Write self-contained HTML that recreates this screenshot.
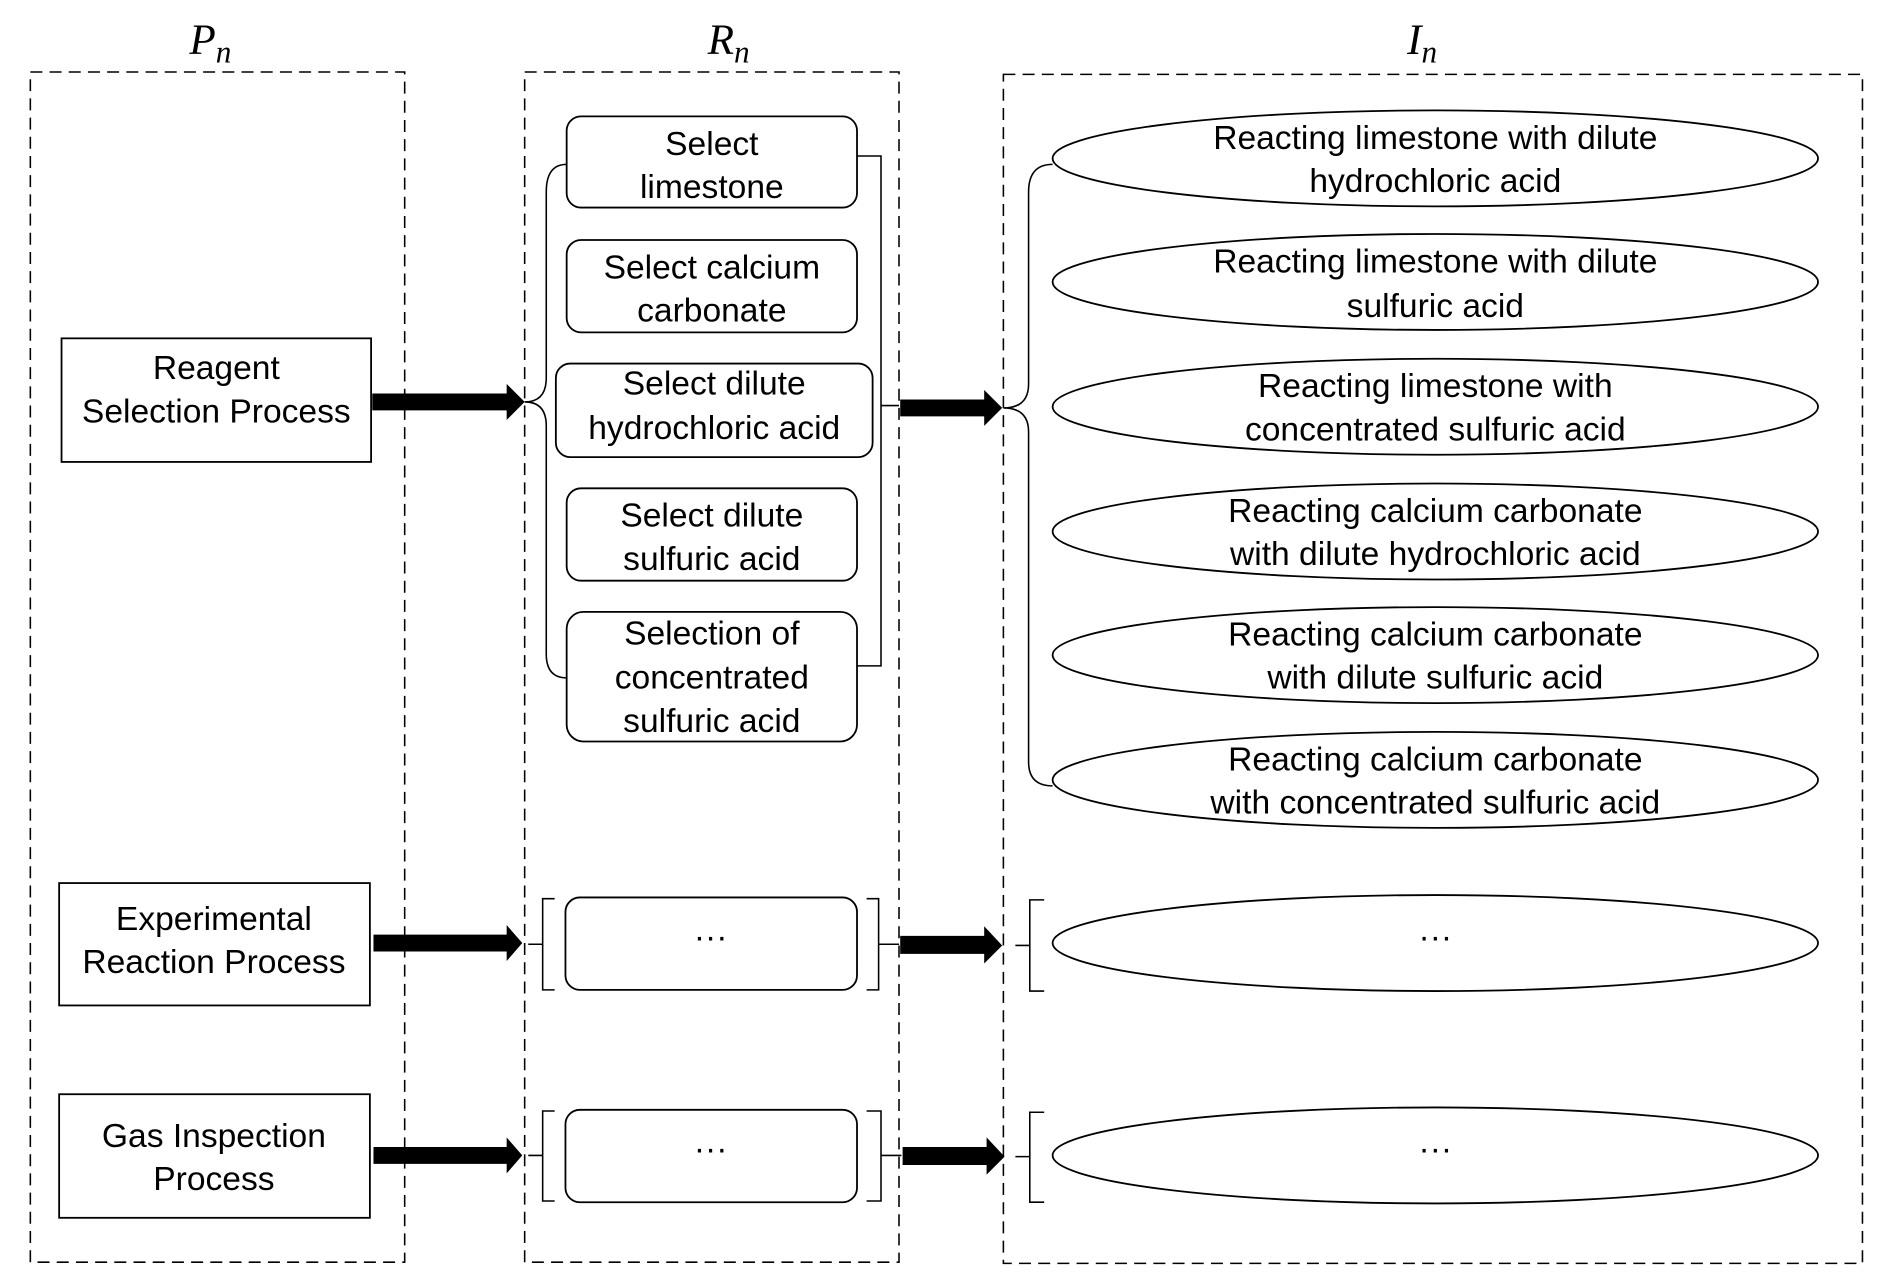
<!DOCTYPE html>
<html><head><meta charset="utf-8"><style>html,body{margin:0;padding:0;background:#fff}svg{display:block}</style></head>
<body>
<svg width="1882" height="1285" viewBox="0 0 1568 1071" xmlns="http://www.w3.org/2000/svg" font-family="Liberation Sans, sans-serif" font-size="28" fill="none" stroke="#000">
<g stroke-dasharray="10,6" stroke-width="1.3">
<rect x="25" y="60" width="312" height="992"/>
<rect x="437" y="60" width="312" height="992"/>
<rect x="836" y="62" width="716" height="991"/>
</g>
<g font-family="Liberation Serif, serif" font-style="italic" font-size="36" fill="#000" stroke="none" text-anchor="middle">
<text x="175" y="45">P<tspan font-size="26" dy="7">n</tspan></text>
<text x="607" y="45">R<tspan font-size="26" dy="7">n</tspan></text>
<text x="1185" y="45">I<tspan font-size="26" dy="7">n</tspan></text>
</g>
<g stroke-width="1.5">
<rect x="51" y="282" width="258" height="103"/>
<rect x="49" y="736" width="259" height="102"/>
<rect x="49" y="912" width="259" height="103"/>
<rect x="472" y="97" width="242" height="76" rx="12"/>
<rect x="472" y="200" width="242" height="77" rx="12"/>
<rect x="463" y="303" width="264" height="78" rx="12"/>
<rect x="472" y="407" width="242" height="77" rx="12"/>
<rect x="472" y="510" width="242" height="108" rx="14"/>
<rect x="471" y="748" width="243" height="77" rx="12"/>
<rect x="471" y="925" width="243" height="77" rx="12"/>
<ellipse cx="1196" cy="132" rx="319" ry="40"/>
<ellipse cx="1196" cy="235" rx="319" ry="40"/>
<ellipse cx="1196" cy="339" rx="319" ry="40"/>
<ellipse cx="1196" cy="443" rx="319" ry="40"/>
<ellipse cx="1196" cy="546" rx="319" ry="40"/>
<ellipse cx="1196" cy="650" rx="319" ry="40"/>
<ellipse cx="1196" cy="786" rx="319" ry="40"/>
<ellipse cx="1196" cy="963" rx="319" ry="40"/>
</g>
<g stroke-width="1.3">
<path d="M472 137 Q455 137 455 160 L455 315 Q455 335 437 335 Q455 335 455 355 L455 545 Q455 565 472 565"/>
<path d="M714 130 L734 130 L734 555 L714 555 M734 338 L749 338"/>
<path d="M877 137 Q857 137 857 160 L857 320 Q857 340 836 340 Q857 340 857 360 L857 635 Q857 655 877 655"/>
<path d="M462 749 L452 749 L452 825 L462 825 M452 787 L440 787"/>
<path d="M722 749 L732 749 L732 825 L722 825 M732 787 L749 787"/>
<path d="M870 750 L858 750 L858 826 L870 826 M858 788 L846 788"/>
<path d="M462 926 L452 926 L452 1001 L462 1001 M452 963 L440 963"/>
<path d="M722 926 L734 926 L734 1001 L722 1001 M734 963 L751 963"/>
<path d="M870 927 L858 927 L858 1002 L870 1002 M858 964 L846 964"/>
</g>
<g fill="#000" stroke="none">
<path d="M310 328 L422 328 L422 320 L437 335 L422 350 L422 342 L310 342Z"/>
<path d="M750 333 L820 333 L820 325 L835 340 L820 355 L820 347 L750 347Z"/>
<path d="M311 779 L422 779 L422 771 L435 786 L422 801 L422 793 L311 793Z"/>
<path d="M750 780 L820 780 L820 772 L835 788 L820 803 L820 795 L750 795Z"/>
<path d="M311 956 L422 956 L422 948 L435 963 L422 978 L422 970 L311 970Z"/>
<path d="M752 956 L822 956 L822 948 L837 964 L822 979 L822 971 L752 971Z"/>
</g>
<g fill="#000" stroke="none" text-anchor="middle">
<text x="180" y="316">Reagent</text><text x="180" y="352">Selection Process</text>
<text x="178" y="775">Experimental</text><text x="178" y="811">Reaction Process</text>
<text x="178" y="956">Gas Inspection</text><text x="178" y="992">Process</text>
<text x="593" y="129">Select</text><text x="593" y="165">limestone</text>
<text x="593" y="232">Select calcium</text><text x="593" y="268">carbonate</text>
<text x="595" y="329">Select dilute</text><text x="595" y="366">hydrochloric acid</text>
<text x="593" y="439">Select dilute</text><text x="593" y="475">sulfuric acid</text>
<text x="593" y="537">Selection of</text><text x="593" y="574">concentrated</text><text x="593" y="610">sulfuric acid</text>
<text x="592" y="790">···</text><text x="592" y="967">···</text>
<text x="1196" y="124">Reacting limestone with dilute</text><text x="1196" y="160">hydrochloric acid</text>
<text x="1196" y="227">Reacting limestone with dilute</text><text x="1196" y="264">sulfuric acid</text>
<text x="1196" y="331">Reacting limestone with</text><text x="1196" y="367">concentrated sulfuric acid</text>
<text x="1196" y="435">Reacting calcium carbonate</text><text x="1196" y="471">with dilute hydrochloric acid</text>
<text x="1196" y="538">Reacting calcium carbonate</text><text x="1196" y="574">with dilute sulfuric acid</text>
<text x="1196" y="642">Reacting calcium carbonate</text><text x="1196" y="678">with concentrated sulfuric acid</text>
<text x="1196" y="790">···</text><text x="1196" y="967">···</text>
</g>
</svg>
</body></html>
